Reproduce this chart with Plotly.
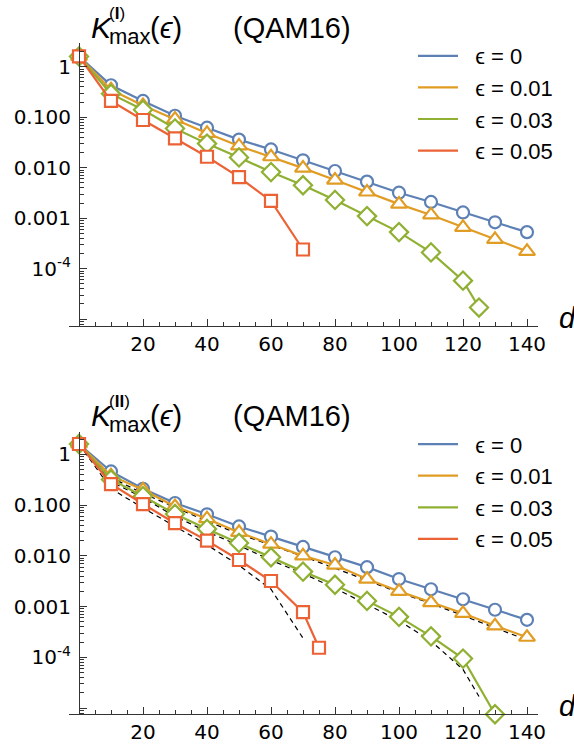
import plotly.graph_objects as go

# ---------------- data ----------------
d_full = [0, 10, 20, 30, 40, 50, 60, 70, 80, 90, 100, 110, 120, 130, 140]

# Panel I : K_max^(I)(eps), QAM16
blue_I = [1.6, 0.43, 0.21, 0.107, 0.062, 0.036, 0.023, 0.014, 0.0086, 0.0053,
          0.0032, 0.0021, 0.0013, 0.00083, 0.00053]
orange_I = [1.6, 0.35, 0.17, 0.092, 0.048, 0.027, 0.0165, 0.0098, 0.0057, 0.0033,
            0.0019, 0.00116, 0.00066, 0.00038, 0.00022]
d_green_I = [0, 10, 20, 30, 40, 50, 60, 70, 80, 90, 100, 110, 120, 125]
green_I = [1.6, 0.29, 0.14, 0.060, 0.030, 0.016, 0.0082, 0.0045, 0.0023, 0.0011,
           0.00053, 0.00021, 5.8e-5, 1.7e-5]
d_red_I = [0, 10, 20, 30, 40, 50, 60, 70]
red_I = [1.6, 0.21, 0.088, 0.038, 0.0165, 0.0065, 0.0022, 0.00024]

# Panel II : K_max^(II)(eps), QAM16
blue_II = [1.6, 0.46, 0.21, 0.11, 0.066, 0.038, 0.024, 0.015, 0.0094, 0.006,
           0.0035, 0.0022, 0.0014, 0.00087, 0.00055]
orange_II = [1.6, 0.38, 0.20, 0.094, 0.054, 0.029, 0.017, 0.010, 0.0066, 0.0035,
             0.0020, 0.0012, 0.00074, 0.00042, 0.00025]
d_green_II = [0, 10, 20, 30, 40, 50, 60, 70, 80, 90, 100, 110, 120, 130]
green_II = [1.6, 0.32, 0.15, 0.067, 0.034, 0.018, 0.0094, 0.0049, 0.0027, 0.0013,
            0.00063, 0.00026, 9.5e-5, 7.6e-6]
d_red_II = [0, 10, 20, 30, 40, 50, 60, 70, 75]
red_II = [1.6, 0.26, 0.105, 0.044, 0.020, 0.0083, 0.0032, 0.00078, 0.000155]

legend_names = ["ϵ = 0", "ϵ = 0.01", "ϵ = 0.03", "ϵ = 0.05"]
x_tickvals = [20, 40, 60, 80, 100, 120, 140]
y_tickvals = [1, 0.1, 0.01, 0.001, 1e-4, 1e-5]
y_ticktext = ["1", "0.100", "0.010", "0.001", "10<sup>-4</sup>", " "]

# ---------------- style ----------------
W, H = 574, 746
colors = ["#5E81B5", "#E19C24", "#8FB032", "#EB6235"]
symbols = ["circle", "triangle-up", "diamond", "square"]
msizes = [12, 14, 14, 12]
AXC = "#333333"
TICKFONT = dict(family="DejaVu Sans", size=20, color="black")
LEGFONT = dict(family="Liberation Sans, Arial", size=22, color="black")
TITLEFONT = "Liberation Sans, Arial"

def px_x(p):
    return p / W

def px_y(p):
    return 1 - p / H

x_dom = [px_x(69), px_x(538)]
x_rng = [-10 / 3.2, (538 - 79) / 3.2]
yaxis_pos = px_x(79)

minor_y = [m * 10 ** e for e in range(-6, 1) for m in range(2, 10)]
minor_x = [v for v in range(5, 145, 5) if v % 20 != 0]

fig = go.Figure()

panels = [
    dict(xa="x", ya="y", off=0, roman="I",
         series=[(d_full, blue_I), (d_full, orange_I), (d_green_I, green_I), (d_red_I, red_I)],
         dashed=[], legend="legend",
         ytop=43, ybot=326, yr=[-5.135, 0.47]),
    dict(xa="x2", ya="y2", off=388.3, roman="II",
         series=[(d_full, blue_II), (d_full, orange_II), (d_green_II, green_II), (d_red_II, red_II)],
         dashed=[(d_full, orange_I), (d_green_I, green_I), (d_red_I, red_I)], legend="legend2",
         ytop=432, ybot=714.3, yr=[-5.12, 0.44]),
]

for p in panels:
    for dx, dy in p["dashed"]:
        fig.add_trace(go.Scatter(x=dx, y=dy, mode="lines", xaxis=p["xa"], yaxis=p["ya"],
                                 line=dict(color="black", width=1.2, dash="5px,4px"),
                                 showlegend=False, hoverinfo="skip"))
    for i, (dx, dy) in enumerate(p["series"]):
        fig.add_trace(go.Scatter(x=dx, y=dy, mode="lines+markers", xaxis=p["xa"], yaxis=p["ya"],
                                 line=dict(color=colors[i], width=2.2),
                                 marker=dict(symbol=symbols[i], size=msizes[i], color="white",
                                             line=dict(width=2.2, color=colors[i])),
                                 cliponaxis=False, showlegend=False))
    for i in range(4):
        fig.add_trace(go.Scatter(x=[None], y=[None], mode="lines", xaxis=p["xa"], yaxis=p["ya"],
                                 line=dict(color=colors[i], width=2.2),
                                 name="\u00a0\u00a0" + legend_names[i],
                                 legend=p["legend"], showlegend=True))

layout = dict(
    width=W, height=H, margin=dict(l=0, r=0, t=0, b=0, autoexpand=False),
    paper_bgcolor="white", plot_bgcolor="white", showlegend=True,
)

for k, p in enumerate(panels):
    xs = "xaxis" if k == 0 else "xaxis2"
    ys = "yaxis" if k == 0 else "yaxis2"
    ydom = [px_y(p["ybot"]), px_y(p["ytop"])]
    layout[xs] = dict(domain=x_dom, range=x_rng, anchor=p["ya"], showline=True, linecolor=AXC,
                      linewidth=1.2, showgrid=False, zeroline=False, ticks="inside", ticklen=7,
                      tickwidth=1.2, tickcolor=AXC, tickvals=x_tickvals,
                      ticktext=[str(v) for v in x_tickvals], tickfont=TICKFONT,
                      automargin=False,
                      minor=dict(tickvals=minor_x, ticks="inside", ticklen=4, tickcolor=AXC,
                                 tickwidth=1))
    layout[ys] = dict(domain=ydom, type="log", range=p["yr"], anchor="free", position=yaxis_pos,
                      showline=True, linecolor=AXC, linewidth=1.2, showgrid=False, zeroline=False,
                      ticks="inside", ticklen=7, tickwidth=1.2, tickcolor=AXC,
                      tickvals=y_tickvals, ticktext=y_ticktext, tickfont=TICKFONT,
                      ticklabelstandoff=4, automargin=False,
                      minor=dict(tickvals=minor_y, ticks="inside", ticklen=4, tickcolor=AXC,
                                 tickwidth=1))
    lg = "legend" if k == 0 else "legend2"
    layout[lg] = dict(x=px_x(413), y=px_y(35 + p["off"]), xref="container", yref="container",
                      xanchor="left", yanchor="top",
                      font=LEGFONT, bgcolor="rgba(0,0,0,0)", borderwidth=0,
                      tracegroupgap=0, itemwidth=40)

fig.update_layout(**layout)

annotations = []
for p in panels:
    o = p["off"]
    def ann(text, xl, yc, size, italic=False):
        annotations.append(dict(text=text, x=px_x(xl), y=px_y(yc + o), xref="paper", yref="paper",
                                xanchor="left", yanchor="middle", showarrow=False,
                                font=dict(family=TITLEFONT, size=size, color="black",
                                          style="italic" if italic else "normal")))
    ann("K", 89, 27, 30, italic=True)
    ann("(<b>" + p["roman"] + "</b>)", 107, 13, 17)
    ann("max", 107, 36, 22)
    ann("(<i>ϵ</i>)", 148, 28, 29)
    ann("(QAM16)", 231, 28, 29)
    ann("d", 557, 318, 29, italic=True)
fig.update_layout(annotations=annotations)

fig.write_html("out.html", config={"displayModeBar": False},
               post_script="document.body.style.margin='0';document.body.style.padding='0';")
